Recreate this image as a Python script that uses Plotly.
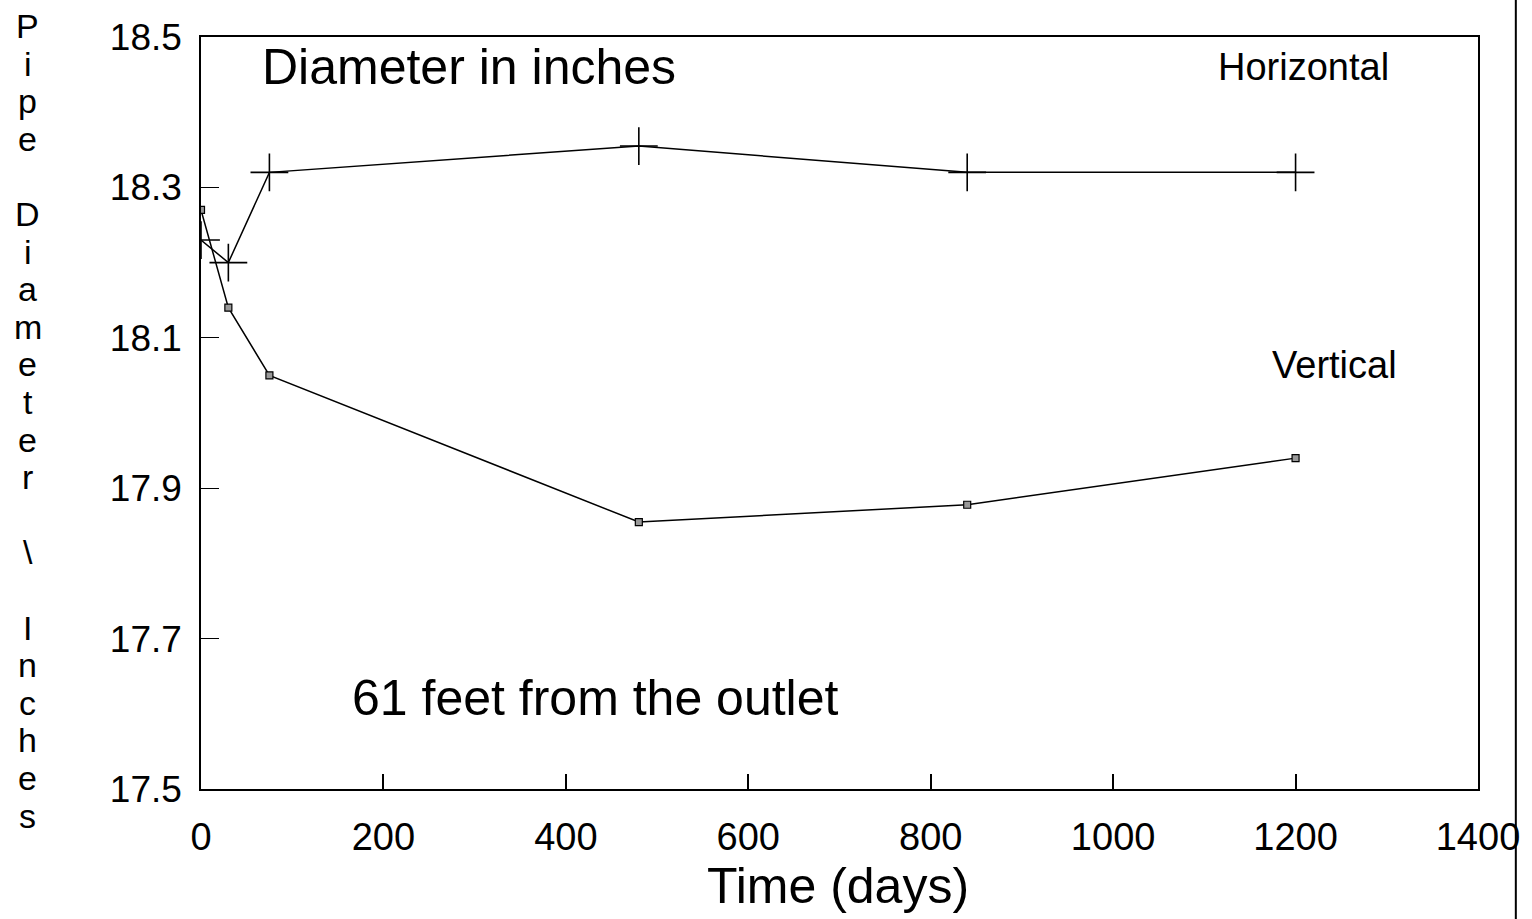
import plotly.graph_objects as go

# ---- data ----
days = [0, 30, 75, 480, 840, 1200]
horizontal = [18.23, 18.20, 18.32, 18.355, 18.32, 18.32]
vertical = [18.27, 18.14, 18.05, 17.855, 17.878, 17.94]
x_ticks = [0, 200, 400, 600, 800, 1000, 1200, 1400]
y_ticks = [17.5, 17.7, 17.9, 18.1, 18.3, 18.5]
y_title_letters = list("Pipe Diameter \\ Inches")

W, H = 1532, 919
L, R, T, B = 201, 48, 37, 130
PW, PH = W - L - R, H - T - B
FONT = "Liberation Sans, Arial, Helvetica, sans-serif"


def px(xp):
    return (xp - L) / PW


def py(yp):
    return (T + PH - yp) / PH


fig = go.Figure()
fig.add_trace(go.Scatter(
    x=days, y=horizontal, mode="lines+markers", name="Horizontal",
    line=dict(color="black", width=1.5),
    marker=dict(symbol="cross-thin", size=27, line=dict(color="black", width=1.6)),
))
fig.add_trace(go.Scatter(
    x=days, y=vertical, mode="lines+markers", name="Vertical",
    line=dict(color="black", width=1.5),
    marker=dict(symbol="square", size=7, color="#999999", line=dict(color="black", width=1.2)),
))

annotations = [
    dict(text="Diameter in inches", x=px(470), y=py(67), size=50),
    dict(text="Horizontal", x=px(1309), y=py(67), size=38),
    dict(text="Vertical", x=px(1340), y=py(365), size=38),
    dict(text="61 feet from the outlet", x=px(597), y=py(698), size=50),
    dict(text="Time (days)", x=px(841), y=py(886), size=50),
]
for i, ch in enumerate(y_title_letters):
    if ch.strip():
        annotations.append(dict(text=ch, x=px(27), y=py(26 + 37.6 * i), size=34))

fig.update_layout(
    width=W, height=H,
    margin=dict(l=L, r=R, t=T, b=B, pad=0),
    paper_bgcolor="white", plot_bgcolor="white",
    showlegend=False,
    font=dict(family=FONT, color="black"),
    annotations=[
        dict(text=a["text"], x=a["x"], y=a["y"], xref="paper", yref="paper",
             xanchor="center", yanchor="middle", showarrow=False,
             font=dict(family=FONT, size=a["size"], color="black"))
        for a in annotations
    ],
    shapes=[
        dict(type="line", xref="paper", yref="paper",
             x0=px(1522), x1=px(1522), y0=py(919), y1=py(0),
             line=dict(color="black", width=2)),
    ],
)
fig.update_xaxes(
    range=[0, 1400], tickvals=x_ticks, ticktext=[str(v) for v in x_ticks],
    showgrid=False, zeroline=False,
    showline=True, linecolor="black", linewidth=1.5, mirror=True,
    ticks="inside", ticklen=15, tickwidth=1.5, tickcolor="black",
    tickfont=dict(family=FONT, size=38, color="black"),
    ticklabelstandoff=14,
)
fig.update_yaxes(
    range=[17.5, 18.5], tickvals=y_ticks, ticktext=[f"{v:.1f}" for v in y_ticks],
    showgrid=False, zeroline=False,
    showline=True, linecolor="black", linewidth=1.5, mirror=True,
    ticks="inside", ticklen=18, tickwidth=1.2, tickcolor="black",
    tickfont=dict(family=FONT, size=37, color="black"),
    ticklabelstandoff=10,
)

fig.write_html("out.html")
